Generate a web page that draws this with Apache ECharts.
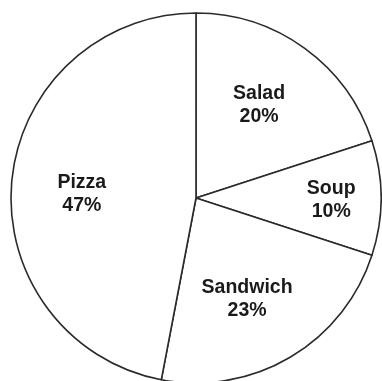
<!DOCTYPE html>
<html><head><meta charset="utf-8">
<script src="https://cdn.jsdelivr.net/npm/echarts@6/dist/echarts.min.js"></script>
<style>html,body{margin:0;padding:0;background:#fff}#c{width:382px;height:381px}</style>
</head><body><div id="c"></div>
<script>
var categories = ['Salad', 'Soup', 'Sandwich', 'Pizza'];
var shares = [20, 10, 23, 47];

// label placement styling: distance from centre (fraction of radius) and nudges
var labelDist = [0.61, 0.72, 0.59, 0.62];
var labelNudgeX = [-5, -1, -6, 3];
var labelNudgeY = [1, 2, 5, 7];
var R = 185, C = [196, 198];

var data = categories.map(function (c, i) { return { name: c, value: shares[i] }; });

var series = [{
  type: 'pie', center: C, radius: [0, R], startAngle: 90, clockwise: true,
  animation: false, silent: true,
  label: { show: false }, labelLine: { show: false },
  itemStyle: { color: '#fff', borderColor: '#2a2a2a', borderWidth: 1.6 },
  data: data
}];
categories.forEach(function (c, k) {
  series.push({
    type: 'pie', center: C, radius: [0, 2 * labelDist[k] * R], startAngle: 90, clockwise: true,
    animation: false, silent: true, z: 5,
    itemStyle: { color: 'rgba(0,0,0,0)', borderWidth: 0 },
    labelLine: { show: false },
    labelLayout: function () { return { dx: labelNudgeX[k], dy: labelNudgeY[k] }; },
    data: data.map(function (d, i) {
      return { name: d.name, value: d.value,
        label: { show: i === k, position: 'inside', formatter: '{b}\n{c}%',
          color: '#1a1a1a', fontFamily: 'Liberation Sans', fontWeight: 'bold',
          fontSize: 19.5, lineHeight: 23, align: 'center' } };
    })
  });
});

var chart = echarts.init(document.getElementById('c'), null, { renderer: 'canvas' });
chart.setOption({ backgroundColor: '#fff', series: series });
</script></body></html>
